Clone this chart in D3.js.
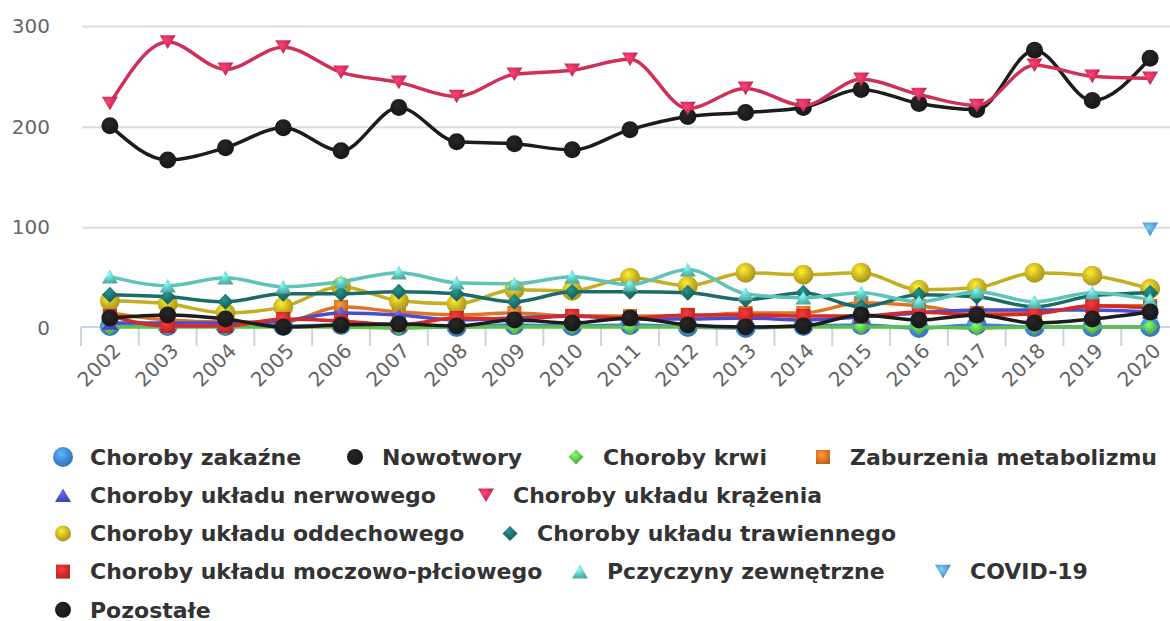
<!DOCTYPE html>
<meta charset="utf-8">
<script src="https://d3js.org/d3.v7.min.js"></script>
<style>
  body { margin: 0; background: #fff; }
  text { font-family: "DejaVu Sans", sans-serif; }
</style>
<div id="chart"></div>
<script>

// categories
var years = ["2002","2003","2004","2005","2006","2007","2008","2009","2010","2011",
             "2012","2013","2014","2015","2016","2017","2018","2019","2020"];

// series values
var zakazne     = [2, 2, 2, 2, 3, 2, 1, 3, 2, 3, 1, 0, 2, 3, 0, 3, 1, 1, 1];
var nowotwory   = [201, 167, 179, 199, 176, 219, 185, 183, 177, 197, 210, 214, 219, 237, 223, 217, 276, 226, 268];
var krwi        = [1, 1, 1, 1, 1, 0, 1, 1, 1, 1, 1, 1, 1, 1, 1, 0, 1, 1, 1];
var metabolizm  = [15, 8, 6, 6, 21, 16, 13, 15, 12, 12, 12, 15, 15, 25, 22, 15, 15, 22, 22];
var nerwowy     = [5, 5, 5, 7, 15, 13, 8, 10, 12, 9, 9, 10, 8, 11, 15, 18, 18, 18, 16];
var krazenie    = [223, 284, 257, 279, 254, 244, 230, 252, 256, 267, 218, 238, 221, 247, 232, 221, 261, 250, 248];
var oddechowy   = [27, 24, 15, 21, 41, 27, 24, 38, 37, 50, 42, 55, 53, 55, 38, 40, 55, 52, 39];
var trawienny   = [33, 31, 26, 34, 34, 36, 34, 26, 36, 36, 35, 28, 35, 21, 33, 31, 21, 32, 35];
var moczowy     = [12, 2, 2, 9, 7, 3, 10, 9, 12, 10, 13, 13, 12, 12, 16, 13, 14, 22, 20];
var zewnetrzne  = [51, 42, 50, 41, 46, 55, 45, 44, 51, 43, 58, 34, 30, 35, 26, 36, 26, 35, 28];
var covid       = [null, null, null, null, null, null, null, null, null, null, null, null, null, null, null, null, null, null, 98];
var pozostale   = [10, 13, 9, 1, 3, 4, 2, 8, 5, 10, 3, 1, 2, 13, 8, 13, 5, 9, 16];

var yTicks = [0, 100, 200, 300];

var series = [
  {name: "Choroby zakaźne",                  values: zakazne,    color: "#3f86cf", symbol: "circle",   size: 10},
  {name: "Nowotwory",                        values: nowotwory,  color: "#1c1c1c", symbol: "circle",   size: 8.5},
  {name: "Choroby krwi",                     values: krwi,       color: "#5ec04c", symbol: "diamond",  size: 8},
  {name: "Zaburzenia metabolizmu",           values: metabolizm, color: "#dd7525", symbol: "square",   size: 7},
  {name: "Choroby układu nerwowego",         values: nerwowy,    color: "#4c4ccf", symbol: "triangle", size: 8},
  {name: "Choroby układu krążenia",          values: krazenie,   color: "#cf2f58", symbol: "triangle-down", size: 8},
  {name: "Choroby układu oddechowego",       values: oddechowy,  color: "#c4ae22", symbol: "circle",   size: 10},
  {name: "Choroby układu trawiennego",       values: trawienny,  color: "#1b6c68", symbol: "diamond",  size: 8},
  {name: "Choroby układu moczowo-płciowego", values: moczowy,    color: "#d42a2a", symbol: "square",   size: 7},
  {name: "Pczyczyny zewnętrzne",             values: zewnetrzne, color: "#5ec4b9", symbol: "triangle", size: 8},
  {name: "COVID-19",                         values: covid,      color: "#5a9ad8", symbol: "triangle-down", size: 8},
  {name: "Pozostałe",                        values: pozostale,  color: "#1c1c1c", symbol: "circle",   size: 8.5}
];

// legend layout: which items go on each row, and where each item starts
var legendRows = [[0, 1, 2, 3], [4, 5], [6, 7], [8, 9, 10], [11]];
var legendX    = [[55, 347, 568, 815], [55, 478], [55, 502], [55, 572, 935], [55]];

var width = 1170, height = 621;

var svg = d3.select("#chart")
  .append("svg")
    .attr("width", width)
    .attr("height", height);

var x = d3.scaleBand().domain(years).range([81, 1179]);
var y = d3.scaleLinear().domain([0, 300]).range([328, 26]);
var cx = function(i) { return x(years[i]) + x.bandwidth() / 2; };

// glossy marker gradients
var defs = svg.append("defs");
series.forEach(function(s, i) {
  var c = d3.color(s.color);
  var g = defs.append("radialGradient")
    .attr("id", "grad" + i)
    .attr("cx", 0.4).attr("cy", 0.35).attr("r", 0.7);
  g.append("stop").attr("offset", "0%").attr("stop-color", c.brighter(0.9));
  g.append("stop").attr("offset", "60%").attr("stop-color", c);
  g.append("stop").attr("offset", "100%").attr("stop-color", c.darker(0.5));
});

function symbolPath(type, r) {
  if (type == "circle")
    return "M" + (-r) + ",0a" + r + "," + r + " 0 1,0 " + (2 * r) + ",0a" + r + "," + r + " 0 1,0 " + (-2 * r) + ",0Z";
  if (type == "square")
    return "M" + (-r) + "," + (-r) + "h" + (2 * r) + "v" + (2 * r) + "h" + (-2 * r) + "Z";
  if (type == "diamond")
    return "M0," + (-r) + "L" + r + ",0L0," + r + "L" + (-r) + ",0Z";
  var h = r * 0.85;
  if (type == "triangle")
    return "M0," + (-h) + "L" + r + "," + h + "L" + (-r) + "," + h + "Z";
  return "M" + (-r) + "," + (-h) + "L" + r + "," + (-h) + "L0," + h + "Z";
}

// gridlines
svg.append("g")
  .attr("transform", "translate(82,0)")
  .call(d3.axisLeft(y).tickValues(yTicks.slice(1)).tickSize(-(width - 82)).tickFormat(""))
  .call(function(g) { g.select(".domain").remove(); })
  .selectAll("line")
    .attr("stroke", "#dcdcdc")
    .attr("stroke-width", 2);

// y labels
svg.append("g")
  .attr("transform", "translate(82,0)")
  .call(d3.axisLeft(y).tickValues(yTicks).tickSize(0).tickPadding(32))
  .call(function(g) { g.select(".domain").remove(); })
  .selectAll("text")
    .attr("fill", "#666")
    .style("font-size", "20px");

// x axis line and ticks between categories
var xAxis = svg.append("g");
xAxis.append("line")
  .attr("x1", 81).attr("x2", 1179)
  .attr("y1", 327).attr("y2", 327)
  .attr("stroke", "#c8d5e4").attr("stroke-width", 2);
xAxis.selectAll(".tick")
  .data(years)
  .enter()
  .append("line")
    .attr("x1", function(d) { return x(d); })
    .attr("x2", function(d) { return x(d); })
    .attr("y1", 327).attr("y2", 346)
    .attr("stroke", "#c8d5e4").attr("stroke-width", 2);
xAxis.selectAll(".label")
  .data(years)
  .enter()
  .append("text")
    .attr("transform", function(d) { return "translate(" + (x(d) + x.bandwidth() / 2 + 12) + ",352)rotate(-45)"; })
    .attr("text-anchor", "end")
    .attr("fill", "#666")
    .style("font-size", "20px")
    .text(function(d) { return d; });

// series
var line = d3.line()
  .defined(function(d) { return d != null; })
  .x(function(d, i) { return cx(i); })
  .y(function(d) { return y(d); })
  .curve(d3.curveMonotoneX);

series.forEach(function(s, si) {
  var g = svg.append("g");
  g.append("path")
    .attr("d", line(s.values))
    .attr("fill", "none")
    .attr("stroke", s.color)
    .attr("stroke-width", 3.5);
  g.selectAll("path.marker")
    .data(s.values.map(function(v, i) { return {v: v, i: i}; }).filter(function(d) { return d.v != null; }))
    .enter()
    .append("path")
      .attr("class", "marker")
      .attr("transform", function(d) { return "translate(" + cx(d.i) + "," + y(d.v) + ")"; })
      .attr("d", symbolPath(s.symbol, s.size))
      .attr("fill", "url(#grad" + si + ")");
});

// legend
var legend = svg.append("g");
legendRows.forEach(function(items, row) {
  items.forEach(function(si, k) {
    var s = series[si];
    var item = legend.append("g")
      .attr("transform", "translate(" + legendX[row][k] + "," + (457 + row * 38.2) + ")");
    var ls = s.symbol == "circle" ? (si == 0 ? 10 : 8) : (s.symbol == "square" ? 7 : s.symbol == "diamond" ? 7.5 : 8);
    item.append("path")
      .attr("transform", "translate(8,0)")
      .attr("d", symbolPath(s.symbol, ls))
      .attr("fill", "url(#grad" + si + ")");
    item.append("text")
      .attr("x", 35)
      .attr("dy", "0.35em")
      .attr("fill", "#333")
      .style("font-size", "22px")
      .style("font-weight", "bold")
      .text(s.name);
  });
});

</script>
